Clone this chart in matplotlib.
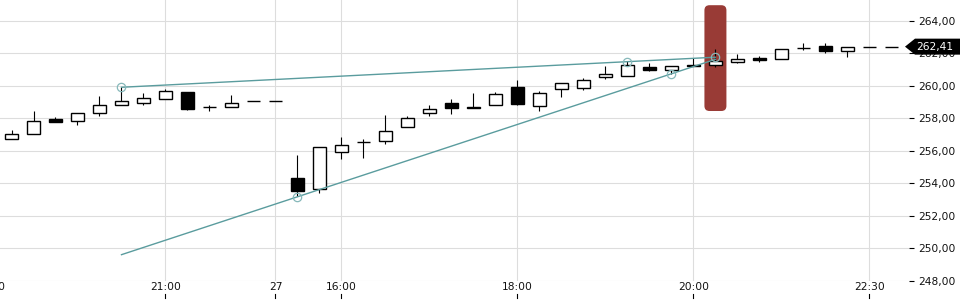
import matplotlib
matplotlib.use("Agg")
import matplotlib.pyplot as plt
import matplotlib.transforms as mtransforms
from matplotlib.patches import FancyBboxPatch, Polygon
import numpy as np

# ---- data -------------------------------------------------------------
opens = [256.71, 257.02, 257.96, 257.83, 258.31, 258.80, 258.92, 259.21, 259.62, 258.68,
         258.70, 259.05, 259.05, 254.31, 253.67, 255.91, 256.52, 256.58, 257.45, 258.34,
         258.92, 258.68, 258.80, 259.91, 258.76, 259.80, 259.85, 260.56, 260.58, 261.18,
         260.95, 261.30, 261.30, 261.45, 261.73, 261.63, 262.34, 262.43, 262.16, 262.41,
         262.41]
highs = [257.28, 258.45, 258.08, 258.31, 259.37, 259.91, 259.58, 259.82, 259.62, 258.84,
         259.42, 259.05, 259.05, 255.74, 256.22, 256.83, 256.71, 258.20, 258.14, 258.82,
         259.17, 259.54, 259.60, 260.36, 259.66, 260.19, 260.48, 261.20, 261.53, 261.40,
         261.24, 261.69, 262.26, 261.94, 261.85, 262.25, 262.65, 262.62, 262.37, 262.41,
         262.41]
lows = [256.71, 257.02, 257.75, 257.59, 258.16, 258.80, 258.84, 259.19, 258.53, 258.47,
        258.70, 259.05, 259.05, 253.20, 253.38, 255.51, 255.54, 256.40, 257.45, 258.16,
        258.25, 258.62, 258.80, 258.80, 258.47, 259.29, 259.76, 260.44, 260.58, 260.93,
        260.74, 261.24, 261.18, 261.38, 261.48, 261.63, 262.20, 262.04, 261.79, 262.41,
        262.41]
closes = [257.02, 257.83, 257.75, 258.31, 258.80, 259.05, 259.23, 259.66, 258.59, 258.68,
          258.94, 259.05, 259.05, 253.54, 256.22, 256.36, 256.52, 257.24, 258.00, 258.55,
          258.62, 258.62, 259.48, 258.86, 259.54, 260.15, 260.36, 260.71, 261.28, 260.99,
          261.24, 261.24, 261.54, 261.65, 261.59, 262.25, 262.34, 262.16, 262.37, 262.41,
          262.41]

x_tick_pos = [-1, 7, 12, 15, 23, 31, 39]
x_tick_labels = ["20:00", "21:00", "27", "16:00", "18:00", "20:00", "22:30"]
y_ticks = [248, 250, 252, 254, 256, 258, 260, 262, 264]

upper_line_idx = [5, 32]
upper_line_val = [259.91, 261.76]
upper_marks_idx = [5, 28, 32]
lower_line_idx = [5, 32]
lower_line_val = [249.61, 261.63]
lower_marks_idx = [13, 30]

highlight_idx = 32
highlight_range = (258.45, 264.96)
last_price = 262.41

# ---- figure -----------------------------------------------------------
fig = plt.figure(figsize=(9.6, 3.0), dpi=100)
ax = fig.add_axes([0, 19 / 300, 909 / 960, 281 / 300])
ax.set_xlim(-0.523, 40.80)
ax.set_ylim(247.99, 265.28)
ax.set_axisbelow(True)

grid_c = "#dddddd"
for s in ax.spines.values():
    s.set_visible(False)

# grid
ax.set_yticks(y_ticks)
ax.yaxis.grid(True, color=grid_c, lw=0.8, zorder=0)
for p in x_tick_pos:
    ax.axvline(p, color=grid_c, lw=0.8, zorder=0)
ax.set_xticks([])

# y axis on right
ax.yaxis.tick_right()
ax.set_yticklabels([f"{v:.2f}".replace(".", ",") for v in y_ticks])
ax.tick_params(axis="y", length=3.5, width=0.8, color="black", pad=3,
               labelsize=7.7, labelcolor="#111111")

# highlight
rnd = 0.23
hl = FancyBboxPatch((highlight_idx - 0.5, highlight_range[0]), 1.0,
                    highlight_range[1] - highlight_range[0],
                    boxstyle=f"round,pad=0,rounding_size={rnd}",
                    mutation_aspect=22 / 16.25,
                    fc="#993b36", ec="none", zorder=1)
ax.add_patch(hl)

# candles
x = np.arange(len(opens))
o = np.array(opens); c = np.array(closes); h = np.array(highs); l = np.array(lows)
ax.vlines(x, l, h, color="black", lw=0.8, zorder=3)
up = c >= o
bottoms = np.minimum(o, c)
heights = np.abs(c - o)
ax.bar(x[up], heights[up], bottom=bottoms[up], width=0.58,
       facecolor="white", edgecolor="black", linewidth=1.0, zorder=4)
ax.bar(x[~up], heights[~up], bottom=bottoms[~up], width=0.58,
       facecolor="black", edgecolor="black", linewidth=1.0, zorder=4)

# trend lines
tc = "#5a9c9e"
ax.plot(upper_line_idx, upper_line_val, color=tc, lw=1.0, zorder=5)
ax.plot(lower_line_idx, lower_line_val, color=tc, lw=1.0, zorder=5)
ax.plot(upper_marks_idx, np.interp(upper_marks_idx, upper_line_idx, upper_line_val),
        "o", ms=6, mfc="none", mec="#86b8ba", mew=0.9, zorder=6)
ax.plot(lower_marks_idx, np.interp(lower_marks_idx, lower_line_idx, lower_line_val),
        "o", ms=6, mfc="none", mec="#86b8ba", mew=0.9, zorder=6)

# x labels and marks
bt = mtransforms.blended_transform_factory(ax.transData, ax.transAxes)
for p, lab in zip(x_tick_pos, x_tick_labels):
    ax.text(p, -6.5 / 281, lab, transform=bt, ha="center", va="center",
            fontsize=7.7, color="#111111", clip_on=False)
    ax.plot([p, p], [-13 / 281, -17 / 281], transform=bt, color="black",
            lw=0.8, clip_on=False)

# last price tag
pt = mtransforms.blended_transform_factory(ax.transAxes, ax.transData)
W = 909.0
dy = 8 / 16.25
poly = Polygon([[905 / W, last_price], [915 / W, last_price + dy], [960 / W, last_price + dy],
                [960 / W, last_price - dy], [915 / W, last_price - dy]],
               closed=True, transform=pt, fc="black", ec="none", zorder=10, clip_on=False)
ax.add_patch(poly)
ax.text(935 / W, last_price, f"{last_price:.2f}".replace(".", ","), transform=pt,
        ha="center", va="center", fontsize=7.7, color="white", zorder=11, clip_on=False)

fig.savefig("out.png", dpi=100)
